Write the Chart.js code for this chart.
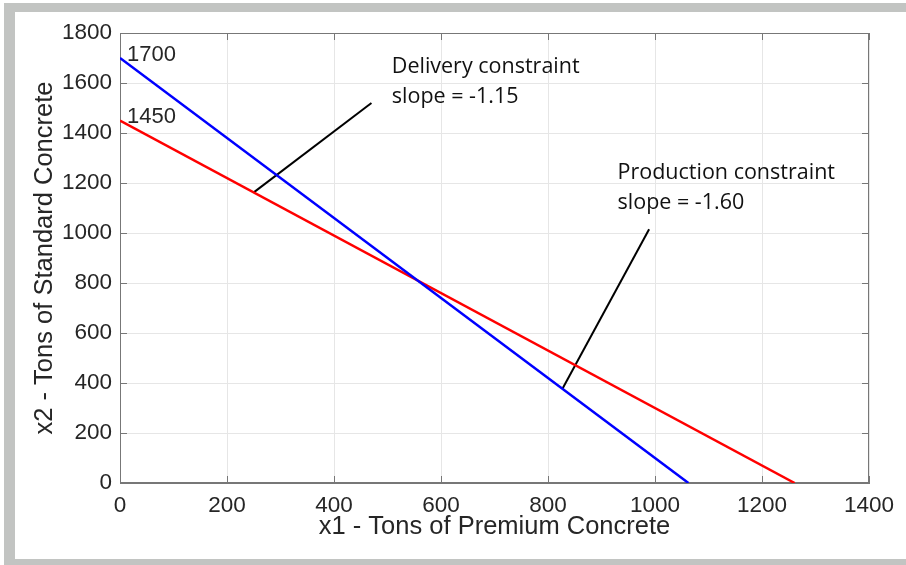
<!DOCTYPE html>
<html>
<head>
<meta charset="utf-8">
<script src="https://cdn.jsdelivr.net/npm/chart.js@4/dist/chart.umd.min.js"></script>
<style>
  html, body { margin: 0; padding: 0; background: #fff; }
  #frame {
    position: absolute; left: 4px; top: 3px; width: 891px; height: 547px;
    border-left: 11px solid #c2c4c2; border-top: 9px solid #c2c4c2; border-bottom: 6px solid #c2c4c2;
    background: #fff;
  }
  #wrap { position: absolute; left: 0; top: 0; width: 906px; height: 565px; }
</style>
</head>
<body>
<div id="frame"></div>
<div id="wrap"><canvas id="lp-chart" width="906" height="565"></canvas></div>
<script>
// constraint lines (x1, x2)
const productionX = [0, 1062.5];
const productionY = [1700, 0];
const deliveryX = [0, 1261];
const deliveryY = [1450, 0];

// pointer lines from the labels to the constraints
const deliveryPointerX = [250, 470];
const deliveryPointerY = [1162.5, 1520];
const productionPointerX = [827, 989];
const productionPointerY = [377, 1015];

// text labels, anchored at their left baseline in data units
const labelText = ['1700', '1450', 'Delivery constraint', 'slope = -1.15', 'Production constraint', 'slope = -1.60'];
const labelX = [13, 13, 508, 508, 930, 930];
const labelY = [1689, 1439, 1641, 1521, 1215, 1095];
const labelFont = ['22px "Liberation Sans"', '22px "Liberation Sans"', '21.5px "Open Sans"', '21.5px "Open Sans"', '21.5px "Open Sans"', '21.5px "Open Sans"'];

const xTicks = [0, 200, 400, 600, 800, 1000, 1200, 1400];
const yTicks = [0, 200, 400, 600, 800, 1000, 1200, 1400, 1600, 1800];

const toPoints = (xs, ys) => xs.map((x, i) => ({ x: x, y: ys[i] }));

const textColor = '#262626';
const axisColor = '#777777';

const boxPlugin = {
  id: 'box',
  beforeDatasetsDraw(chart) {
    const { ctx, chartArea: a, scales } = chart;
    ctx.save();
    ctx.strokeStyle = axisColor;
    ctx.lineWidth = 1;
    ctx.strokeRect(a.left + 0.5, a.top + 0.5, a.right - a.left - 1, a.bottom - a.top - 1);
    // inward tick marks on all four sides
    ctx.beginPath();
    xTicks.forEach((v) => {
      const px = Math.round(scales.x.getPixelForValue(v)) + 0.5;
      ctx.moveTo(px, a.bottom); ctx.lineTo(px, a.bottom - 7);
      ctx.moveTo(px, a.top); ctx.lineTo(px, a.top + 7);
    });
    yTicks.forEach((v) => {
      const py = Math.round(scales.y.getPixelForValue(v)) + 0.5;
      ctx.moveTo(a.left, py); ctx.lineTo(a.left + 7, py);
      ctx.moveTo(a.right, py); ctx.lineTo(a.right - 7, py);
    });
    ctx.stroke();
    ctx.restore();
  },
};

const textPlugin = {
  id: 'labels',
  afterDatasetsDraw(chart) {
    const { ctx, scales } = chart;
    ctx.save();
    ctx.textAlign = 'left';
    ctx.textBaseline = 'alphabetic';
    labelText.forEach((t, i) => {
      ctx.font = labelFont[i];
      ctx.fillStyle = i < 2 ? textColor : '#111111';
      ctx.fillText(t, scales.x.getPixelForValue(labelX[i]), scales.y.getPixelForValue(labelY[i]));
    });
    ctx.restore();
  },
};

const ctx = document.getElementById('lp-chart').getContext('2d');
new Chart(ctx, {
  type: 'scatter',
  data: {
    datasets: [
      { data: toPoints(productionX, productionY), showLine: true, borderColor: '#0000ff', borderWidth: 2.5, pointRadius: 0 },
      { data: toPoints(deliveryX, deliveryY), showLine: true, borderColor: '#ff0000', borderWidth: 2.5, pointRadius: 0 },
      { data: toPoints(deliveryPointerX, deliveryPointerY), showLine: true, borderColor: '#000000', borderWidth: 2, pointRadius: 0 },
      { data: toPoints(productionPointerX, productionPointerY), showLine: true, borderColor: '#000000', borderWidth: 2, pointRadius: 0 },
    ],
  },
  options: {
    responsive: false,
    animation: false,
    layout: { padding: { top: 33, right: 37, left: 0, bottom: 0 } },
    plugins: { legend: { display: false }, tooltip: { enabled: false } },
    scales: {
      x: {
        type: 'linear',
        min: 0,
        max: 1400,
        afterFit: (scale) => { scale.height = 82; },
        afterBuildTicks: (scale) => { scale.ticks = xTicks.map((v) => ({ value: v })); },
        ticks: { color: textColor, padding: 9, maxRotation: 0, callback: (v) => String(v), font: { family: 'Liberation Sans', size: 22.5 } },
        grid: { color: '#e6e6e6', drawTicks: false },
        border: { color: axisColor, width: 1 },
        title: {
          display: true,
          text: 'x1 - Tons of Premium Concrete',
          color: textColor,
          font: { family: 'Liberation Sans', size: 25.5 },
          padding: { top: 0, bottom: 23 },
        },
      },
      y: {
        type: 'linear',
        min: 0,
        max: 1800,
        afterFit: (scale) => { scale.width = 120; },
        afterBuildTicks: (scale) => { scale.ticks = yTicks.map((v) => ({ value: v })); },
        ticks: { color: textColor, padding: 8, callback: (v) => String(v), font: { family: 'Liberation Sans', size: 22.5 } },
        grid: { color: '#e6e6e6', drawTicks: false },
        border: { color: axisColor, width: 1 },
        title: {
          display: true,
          text: 'x2 - Tons of Standard Concrete',
          color: textColor,
          font: { family: 'Liberation Sans', size: 25.5 },
          padding: { top: 30, bottom: 0 },
        },
      },
    },
  },
  plugins: [boxPlugin, textPlugin],
});
</script>
</body>
</html>
